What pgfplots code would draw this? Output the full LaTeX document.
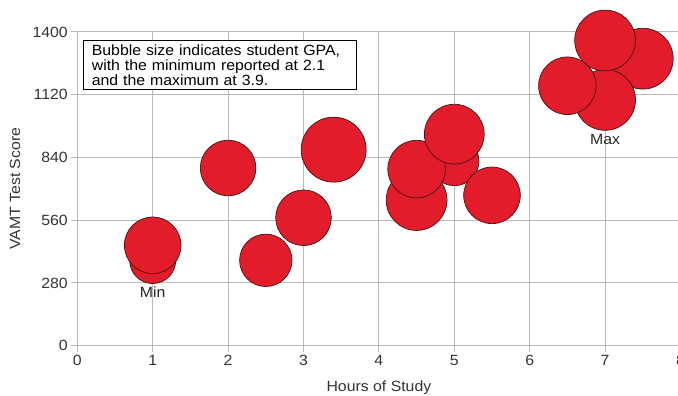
\documentclass[border=0pt]{standalone}
\usepackage{pgfplots}
\pgfplotsset{compat=1.18}
\usepackage{fontspec}
\setmainfont{Liberation Sans}[FakeStretch=1.07]
\definecolor{bubblered}{RGB}{226,28,42}
\definecolor{bubbleedge}{RGB}{70,20,20}
\definecolor{gridgray}{RGB}{185,185,185}
\newcommand{\chartfont}{\fontsize{14.8}{15.3}\selectfont}
\begin{document}
\begin{tikzpicture}[font=\chartfont]
\useasboundingbox (-77.3pt,-50.3pt) rectangle (600.7pt,345.7pt);
\clip (-77.3pt,-50.3pt) rectangle (600.7pt,345.7pt);
\begin{axis}[
  at={(0pt,0pt)}, anchor=south west,
  scale only axis, width=603.2pt, height=313.7pt,
  xmin=0, xmax=8, ymin=0, ymax=1400,
  xtick={0,1,...,8}, ytick={0,280,560,840,1120,1400},
  grid=major, grid style={gridgray, line width=1pt},
  axis line style={gridgray, line width=1pt},
  tick style={gridgray, line width=1pt},
  major tick length=6pt, tick align=outside, tick pos=left,
  clip=false,
  /pgf/number format/assume math mode=true,
  /pgf/number format/set thousands separator={},
  ticklabel style={font=\chartfont, text=black!80},
  label style={font=\chartfont, text=black!80},
  xlabel={Hours of Study},
  ylabel={VAMT Test Score},
  xlabel style={at={(axis description cs:0.5,0)}, anchor=center, yshift=-41.8pt},
  ylabel style={at={(axis description cs:-0.1033,0.5)}, anchor=center},
]
\addplot[scatter, only marks, mark=*,
  scatter/use mapped color={draw=bubbleedge, fill=bubblered},
  visualization depends on={\thisrow{rad} \as \rad},
  scatter/@pre marker code/.append style={/tikz/mark size=\rad pt},
  mark options={line width=0.7pt}]
table[x=hours, y=score] {
hours score gpa rad
1   380  2.1 23.0
1   448  3.1 28.3
2   793  3.0 27.8
2.5 381  2.7 26.2
3   571  3.0 27.8
3.4 875  3.9 32.5
5   824  2.4 24.6
4.5 650  3.5 30.4
4.5 788  3.2 28.8
5   944  3.4 29.9
5.5 671  3.1 28.3
7.5 1281 3.5 30.4
7   1097 3.5 30.4
6.5 1160 3.2 28.8
7   1362 3.5 30.4
};
\node[font=\chartfont, text=black!85] at (axis cs:1,239) {Min};
\node[font=\chartfont, text=black!85] at (axis cs:7,919) {Max};
\node[draw=black, line width=1pt, fill=white, anchor=north west,
  text width=256.7pt, inner xsep=8pt, inner ysep=4pt, align=left,
  font=\chartfont]
  at (rel axis cs:0.01,0.9745)
  {Bubble size indicates student GPA,\\with the minimum reported at 2.1\\and the maximum at 3.9.};
\end{axis}
\end{tikzpicture}
\end{document}
